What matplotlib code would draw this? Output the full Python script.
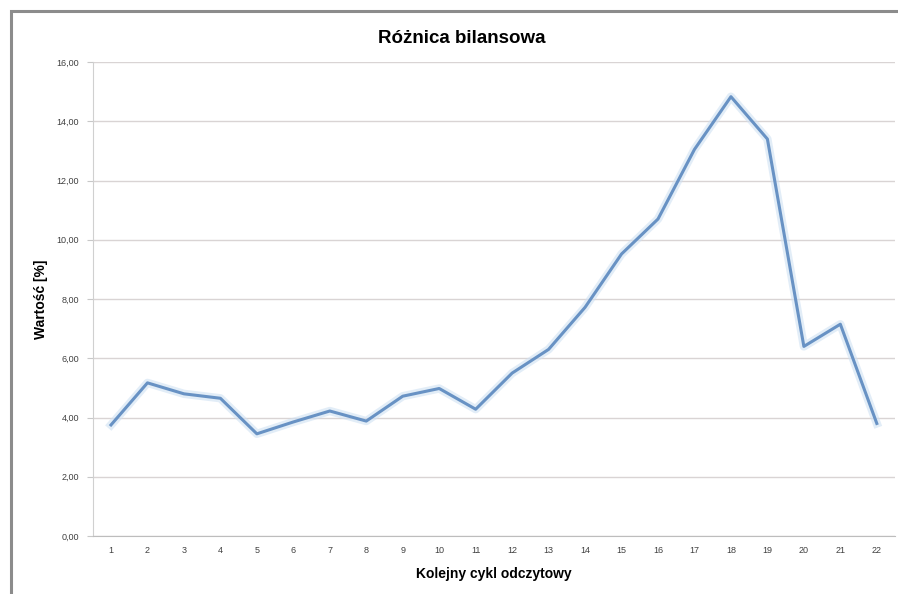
import matplotlib
matplotlib.use("Agg")
import matplotlib.pyplot as plt
from matplotlib.patches import Rectangle
from matplotlib.ticker import FuncFormatter

# Kolejne cykle odczytowe i różnica bilansowa [%]
cykle = list(range(1, 23))
roznica = [3.75, 5.17, 4.80, 4.65, 3.45, 3.85, 4.22, 3.88, 4.72, 4.98, 4.28,
           5.50, 6.30, 7.72, 9.52, 10.70, 13.05, 14.83, 13.40, 6.40, 7.15, 3.80]
y_ticks = [0, 2, 4, 6, 8, 10, 12, 14, 16]

plt.rcParams['font.family'] = ['Liberation Sans', 'DejaVu Sans']

fig = plt.figure(figsize=(8.98, 5.94), dpi=100)
ax = fig.add_axes([0.1033, 0.0976, 0.8934, 0.7980])

# Obramowanie wykresu
fig.add_artist(Rectangle((10.5 / 898, -0.01), 1.0, 1.0 - 10.5 / 594 + 0.01,
                         transform=fig.transFigure, fill=False,
                         edgecolor='#8c8c8c', linewidth=2.2))

# Linia z lekką poświatą
ax.plot(cykle, roznica, color='#cfe1f3', linewidth=6.0, alpha=0.6,
        solid_joinstyle='round', zorder=2)
ax.plot(cykle, roznica, color='#6892c4', linewidth=2.2,
        solid_joinstyle='round', zorder=3)

ax.set_xlim(0.5, 22.5)
ax.set_ylim(0, 16)
ax.set_xticks(cykle)
ax.set_xticklabels([str(c) for c in cykle], fontsize=6.5, color='#404040')
ax.set_yticks(y_ticks)
ax.yaxis.set_major_formatter(FuncFormatter(lambda v, p: f"{v:.2f}".replace('.', ',')))
ax.tick_params(axis='y', labelsize=6.5, labelcolor='#404040', length=4,
               color='#c8c8c8', pad=6)
ax.tick_params(axis='x', length=0, pad=7)

ax.grid(axis='y', color='#d9d4d4', linewidth=1.0)
ax.set_axisbelow(True)
for side in ['top', 'right']:
    ax.spines[side].set_visible(False)
ax.spines['left'].set_color('#d0d0d0')
ax.spines['bottom'].set_color('#bdbdbd')

ax.set_xlabel('Kolejny cykl odczytowy', fontsize=10, fontweight='bold', labelpad=9)
ax.set_ylabel('Wartość [%]', fontsize=10, fontweight='bold', labelpad=6)
fig.text(0.5145, 0.936, 'Różnica bilansowa', ha='center', va='center',
         fontsize=13.5, fontweight='bold')

fig.savefig('out.png', dpi=100)
